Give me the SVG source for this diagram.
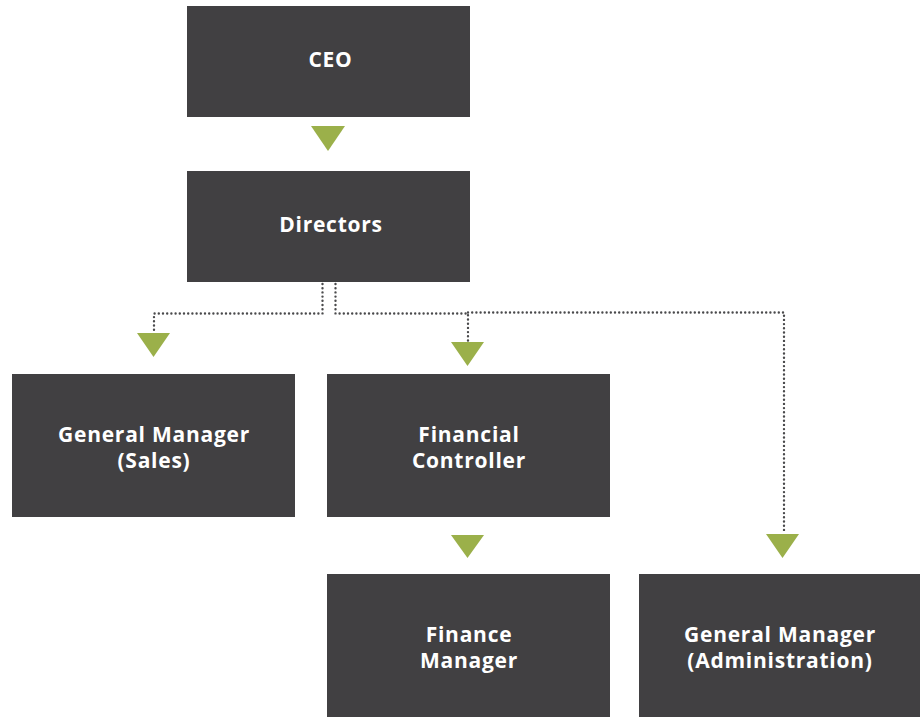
<svg xmlns="http://www.w3.org/2000/svg" width="920" height="717" viewBox="0 0 920 717">
  <style>
    .box { fill: #414042; }
    .lbl { fill: #ffffff; font-family: "Open Sans", Lato, "Liberation Sans", sans-serif; font-weight: bold; font-size: 21px; letter-spacing: 0.75px; text-anchor: middle; }
    .dot { fill: none; stroke: #4a4a4c; stroke-width: 2.4; stroke-linecap: round; stroke-dasharray: 0 4.2; }
    .tri { fill: #9bb04a; }
  </style>
  <rect width="920" height="717" fill="#ffffff"/>

  <g id="connectors">
    <!-- dotted branches from Directors -->
    <path class="dot" d="M322.5 284 V313.5 H154 V333"/>
    <path class="dot" d="M335.5 284 V313.5 H468 V342"/>
    <path class="dot" d="M468 312.5 H784 V534"/>
    <!-- arrowheads -->
    <polygon class="tri" points="311,126 345,126 328,151"/>
    <polygon class="tri" points="137,333 170,333 153.5,357"/>
    <polygon class="tri" points="451,342 484,342 467.5,366"/>
    <polygon class="tri" points="451,535 484,535 467.5,558"/>
    <polygon class="tri" points="766,534 799,534 782.5,558"/>
  </g>

  <g id="ceo">
    <rect class="box" x="187" y="6" width="283" height="111"/>
    <text class="lbl" x="330.5" y="67">CEO</text>
  </g>
  <g id="directors">
    <rect class="box" x="187" y="171" width="283" height="111"/>
    <text class="lbl" x="331" y="232">Directors</text>
  </g>
  <g id="gm-sales">
    <rect class="box" x="12" y="374" width="283" height="143"/>
    <text class="lbl" x="154" y="442">General Manager</text>
    <text class="lbl" x="154" y="468">(Sales)</text>
  </g>
  <g id="financial-controller">
    <rect class="box" x="327" y="374" width="283" height="143"/>
    <text class="lbl" x="469" y="442">Financial</text>
    <text class="lbl" x="469" y="468">Controller</text>
  </g>
  <g id="finance-manager">
    <rect class="box" x="327" y="574" width="283" height="143"/>
    <text class="lbl" x="469" y="642">Finance</text>
    <text class="lbl" x="469" y="668">Manager</text>
  </g>
  <g id="gm-admin">
    <rect class="box" x="639" y="574" width="281" height="143"/>
    <text class="lbl" x="780" y="642">General Manager</text>
    <text class="lbl" x="780" y="668">(Administration)</text>
  </g>
</svg>
